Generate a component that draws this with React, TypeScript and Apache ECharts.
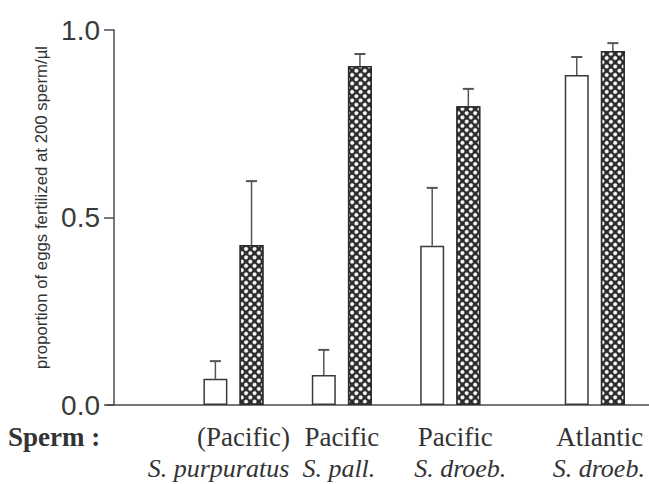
import React, { useEffect, useRef } from "react";
import * as echarts from "echarts";

// ---- data ----
const species = ["S. purpuratus", "S. pall.", "S. droeb.", "S. droeb."];
const spermOrigin = ["(Pacific)", "Pacific", "Pacific", "Atlantic"];
const openValues = [0.07, 0.08, 0.425, 0.88];
const openUpper = [0.117, 0.147, 0.579, 0.928];
const hatchValues = [0.427, 0.904, 0.797, 0.944];
const hatchUpper = [0.597, 0.936, 0.843, 0.965];
const yTicks = [0, 0.5, 1.0];
const yTitle = "proportion of eggs fertilized at 200 sperm/\u00b5l";
const rowTitle = "Sperm :";

// ---- layout (slot grid of the original figure) ----
const slotCount = 16;
const groupSlot = [3, 6, 9, 13]; // open bar slot, hatched bar sits on the next slot
const originShift = [10, 0, 5, 5]; // label nudges (px) as typeset in the original
const speciesShift = [-15, -3, 10, 4];

export default function App() {
  const ref = useRef<HTMLDivElement>(null);

  useEffect(() => {
    if (!ref.current) return;
    const chart = echarts.init(ref.current, null, { renderer: "svg" });

    const slots: string[] = Array.from({ length: slotCount }, (_, i) => "s" + i);
    const openData: any[] = Array(slotCount).fill("-");
    const hatchData: any[] = Array(slotCount).fill("-");
    const errData: any[] = [];
    groupSlot.forEach((s, i) => {
      slots[s] = species[i] + " " + spermOrigin[i] + " open";
      slots[s + 1] = species[i] + " " + spermOrigin[i] + " hatched";
      openData[s] = openValues[i];
      hatchData[s + 1] = hatchValues[i];
      errData.push([s, openValues[i], openUpper[i]]);
      errData.push([s + 1, hatchValues[i], hatchUpper[i]]);
    });

    const axisColor = "#4a4a4a";

    chart.setOption({
      animation: false,
      backgroundColor: "#ffffff",
      grid: { left: 107, right: 0, top: 30, bottom: 79 },
      xAxis: {
        type: "category",
        data: slots,
        boundaryGap: false,
        axisLine: { show: true, lineStyle: { color: axisColor, width: 1.5 } },
        axisTick: { show: false },
        axisLabel: { show: false },
        splitLine: { show: false },
      },
      yAxis: {
        type: "value",
        min: yTicks[0],
        max: yTicks[yTicks.length - 1],
        interval: yTicks[1] - yTicks[0],
        offset: -7,
        axisLine: { show: true, lineStyle: { color: axisColor, width: 1.5 } },
        axisTick: { show: true, inside: false, length: 10, lineStyle: { color: axisColor, width: 1.5 } },
        splitLine: { show: false },
        axisLabel: {
          formatter: (v: number) => v.toFixed(1),
          fontFamily: "Liberation Sans",
          fontSize: 28,
          color: "#3a3a3a",
          margin: 14,
        },
        name: yTitle,
        nameLocation: "middle",
        nameRotate: 90,
        nameGap: 62,
        nameTextStyle: {
          fontFamily: "Liberation Sans",
          fontSize: 16.8,
          color: "#333",
          padding: [0, 0, 0, 20],
        },
      },
      series: [
        {
          type: "bar",
          data: openData,
          barWidth: 24,
          barGap: "-100%",
          itemStyle: { color: "#ffffff", borderColor: "#3a3a3a", borderWidth: 1.5 },
        },
        {
          type: "bar",
          data: hatchData,
          barWidth: 24,
          barGap: "-100%",
          itemStyle: {
            color: "#2b2b2b",
            borderColor: "#2b2b2b",
            borderWidth: 1.5,
            decal: {
              symbol: "circle",
              symbolSize: 1,
              color: "#ffffff",
              dashArrayX: [3.2, 1.4],
              dashArrayY: [3.2, 1.4],
              rotation: Math.PI / 4,
            },
          },
        },
        {
          type: "custom",
          data: errData,
          encode: { x: 0, y: [1, 2] },
          z: 5,
          renderItem: (params: any, api: any) => {
            const x = api.value(0);
            const p0 = api.coord([x, api.value(1)]);
            const p1 = api.coord([x, api.value(2)]);
            return {
              type: "group",
              children: [
                {
                  type: "line",
                  shape: { x1: p0[0], y1: p0[1], x2: p1[0], y2: p1[1] },
                  style: { stroke: "#555", lineWidth: 1.5 },
                },
                {
                  type: "line",
                  shape: { x1: p1[0] - 5.5, y1: p1[1], x2: p1[0] + 5.5, y2: p1[1] },
                  style: { stroke: "#555", lineWidth: 2 },
                },
              ],
            };
          },
        },
      ],
    });

    const graphics: any[] = [
      {
        type: "text",
        x: 8,
        y: 437,
        style: {
          text: rowTitle,
          font: "bold 27px 'Liberation Serif'",
          fill: "#333",
          textAlign: "left",
          textVerticalAlign: "middle",
        },
      },
    ];
    groupSlot.forEach((s, i) => {
      const a = chart.convertToPixel({ xAxisIndex: 0 }, s) as number;
      const b = chart.convertToPixel({ xAxisIndex: 0 }, s + 1) as number;
      const cx = (a + b) / 2;
      graphics.push({
        type: "text",
        x: cx + originShift[i],
        y: 437,
        style: {
          text: spermOrigin[i],
          font: "27px 'Liberation Serif'",
          fill: "#333",
          textAlign: "center",
          textVerticalAlign: "middle",
        },
      });
      graphics.push({
        type: "text",
        x: cx + speciesShift[i],
        y: 468,
        style: {
          text: species[i],
          font: "italic 26px 'Liberation Serif'",
          fill: "#333",
          textAlign: "center",
          textVerticalAlign: "middle",
        },
      });
    });
    chart.setOption({ graphic: graphics });

    return () => chart.dispose();
  }, []);

  return (
    <div
      ref={ref}
      style={{ position: "absolute", left: 0, top: 0, width: 649, height: 484, background: "#fff" }}
    />
  );
}
